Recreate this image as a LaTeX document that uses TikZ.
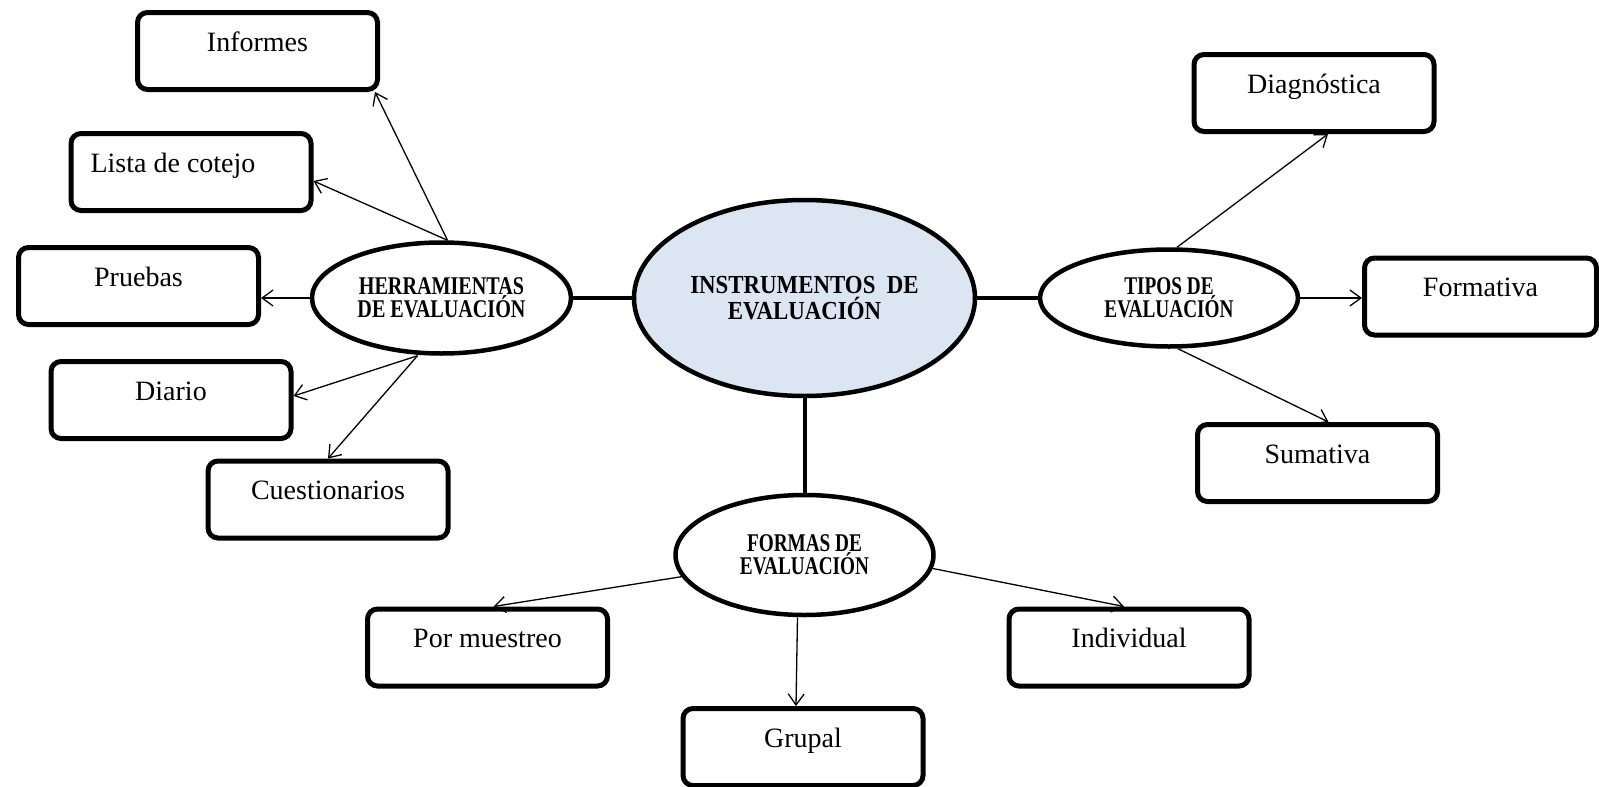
\documentclass[tikz,border=0pt]{standalone}
\usepackage{fontspec}
\setmainfont{Liberation Serif}
\newfontfamily\hubfont[FakeStretch=0.88]{Liberation Serif}
\newfontfamily\subfont[FakeStretch=0.79]{Liberation Serif}
\newfontfamily\narrowfont[FakeStretch=0.755]{Liberation Serif}
\usetikzlibrary{arrows.meta, shapes.geometric}
\definecolor{hubblue}{HTML}{DCE6F2}

\begin{document}
\begin{tikzpicture}[x=1pt, y=-1pt,
  leaf/.style={draw, line width=5pt, rounded corners=10pt,
    minimum width=240pt, minimum height=77pt, inner sep=0pt,
    text height=20pt, text depth=20pt,
    font=\fontsize{28}{32}\selectfont},
  topic/.style={ellipse, draw, line width=4.5pt, inner sep=0pt, align=center,
    font=\narrowfont\bfseries\fontsize{25.5}{21}\selectfont},
  hub/.style={ellipse, draw, line width=4.5pt, fill=hubblue, inner sep=0pt,
    align=center, font=\hubfont\bfseries\fontsize{26}{26}\selectfont},
  link/.style={line width=4pt},
  branch/.style={line width=1.3pt, -{Straight Barb[length=11pt, width=16pt]}}
]
\useasboundingbox (0,0) rectangle (1599,787);

% central concept and its three groups
\node[hub, minimum width=341pt, minimum height=196pt] (inst) at (804.5,298)
  {INSTRUMENTOS~~DE\\EVALUACIÓN};
\node[topic, minimum width=259pt, minimum height=111pt,
  font=\subfont\bfseries\fontsize{25.5}{21}\selectfont] (herr) at (441.5,298)
  {HERRAMIENTAS\\DE EVALUACIÓN};
\node[topic, minimum width=258pt, minimum height=97pt] (tipos) at (1169,298)
  {TIPOS DE\\EVALUACIÓN};
\node[topic, minimum width=258pt, minimum height=120pt] (formas) at (804.5,555)
  {FORMAS DE\\EVALUACIÓN};

% tools
\node[leaf] (inf)   at (257.5,51)    {Informes};
\node[leaf] (lista) at (191,172)     {Lista de cotejo\hspace*{36pt}};
\node[leaf] (pru)   at (138.5,286)   {Pruebas};
\node[leaf] (dia)   at (171,400)     {Diario};
\node[leaf] (cue)   at (328,499.5)   {Cuestionarios};

% types
\node[leaf] (diag) at (1314,93)     {Diagnóstica};
\node[leaf, minimum width=232pt] (form) at (1480.5,296.5) {Formativa};
\node[leaf] (sum)  at (1317.5,463)  {Sumativa};

% forms
\node[leaf] (por) at (487.5,647.5) {Por muestreo};
\node[leaf] (ind) at (1129,647.5)  {Individual};
\node[leaf] (gru) at (803,747)     {Grupal};

% thick links from the centre
\draw[link] (herr.east) -- (inst.west);
\draw[link] (inst.east) -- (tipos.west);
\draw[link] (inst.south) -- (formas.north);

% arrows to the leaves
\draw[branch] ([xshift=6pt]herr.north) -- ([xshift=-5pt]inf.south east);
\draw[branch] ([xshift=6pt]herr.north) -- ([yshift=-9pt]lista.east);
\draw[branch] (herr.west) -- (herr.west -| pru.east);
\draw[branch] ([xshift=-24pt]herr.south) -- ([yshift=4pt]dia.east);
\draw[branch] ([xshift=-24pt]herr.south) -- (cue.north);

\draw[branch] ([xshift=8pt]tipos.north) -- ([xshift=14pt]diag.south);
\draw[branch] (tipos.east) -- (tipos.east -| form.west);
\draw[branch] ([xshift=9pt]tipos.south) -- ([xshift=11pt]sum.north);

\draw[branch] (formas.190) -- ([xshift=6pt]por.north);
\draw[branch] ([xshift=-7pt]formas.south) -- ([xshift=-7pt]gru.north);
\draw[branch] (formas.-6) -- ([xshift=-5pt]ind.north);
\end{tikzpicture}
\end{document}
